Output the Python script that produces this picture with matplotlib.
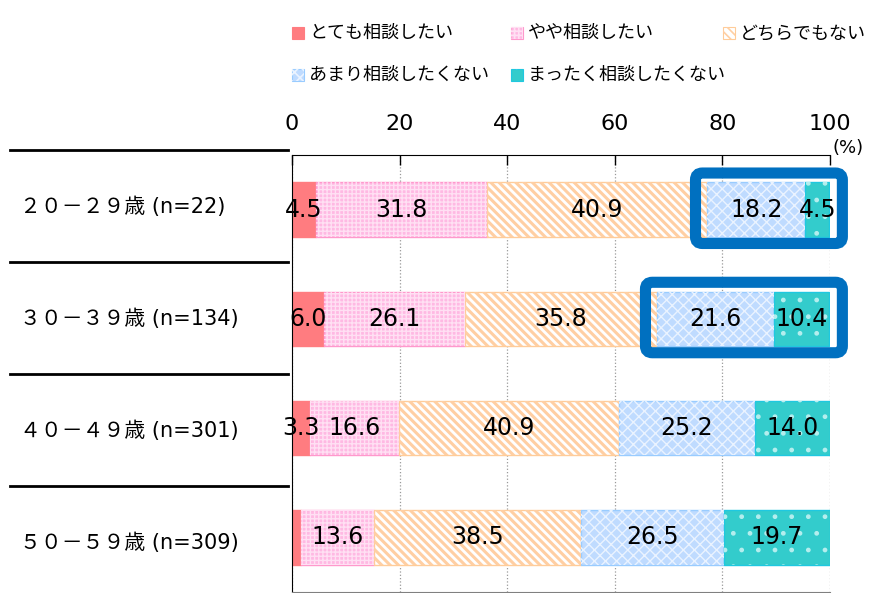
import matplotlib.pyplot as plt
from matplotlib.patches import Rectangle, FancyBboxPatch
from matplotlib.lines import Line2D
import numpy as np

plt.rcParams['font.family'] = ['DejaVu Sans', 'Noto Sans CJK JP']
plt.rcParams['hatch.linewidth'] = 1.2

# data
groups = ['２０－２９歳 (n=22)', '３０－３９歳 (n=134)',
          '４０－４９歳 (n=301)', '５０－５９歳 (n=309)']
series = ['とても相談したい', 'やや相談したい', 'どちらでもない',
          'あまり相談したくない', 'まったく相談したくない']
very_want = [4.5, 6.0, 3.3, 1.7]
some_want = [31.8, 26.1, 16.6, 13.6]
neutral = [40.9, 35.8, 40.9, 38.5]
not_much = [18.2, 21.6, 25.2, 26.5]
not_at_all = [4.5, 10.4, 14.0, 19.7]
xticks = [0, 20, 40, 60, 80, 100]
highlight_rows = [0, 1]

values = [very_want, some_want, neutral, not_much, not_at_all]

# style: (face, edge, hatch, hatch colour, hatch width)
styles = [
    ('#FF7C80', '#FF7C80', None, None, 1.0),
    ('#FFB9E3', '#FF99CC', '++++', '#FFE0F3', 1.0),
    ('#FFFFFF', '#FFCC99', '\\\\\\\\', '#FFCFA3', 2.2),
    ('#BFDBFF', '#99CCFF', 'xxx', '#EAF3FF', 1.0),
    ('#33CCCC', '#1FC8E0', '.', '#B4EEEE', 1.0),
]

W, H = 875, 593
fig = plt.figure(figsize=(W / 100, H / 100), dpi=100)
ax = fig.add_axes([292 / W, 1 / H, (830 - 292) / W, (592 - 155) / H])

y = np.arange(len(groups))
left = np.zeros(len(groups))
for vals, (fc, ec, hatch, hc, hw) in zip(values, styles):
    vals = np.array(vals)
    ax.barh(y, vals, left=left, height=0.5, color=fc,
            edgecolor=ec, linewidth=1, zorder=2)
    if hatch:
        with plt.rc_context({'hatch.linewidth': hw}):
            ax.barh(y, vals, left=left, height=0.5, color='none',
                    edgecolor=hc, linewidth=0, hatch=hatch, zorder=3)
    for yi, l, v in zip(y, left, vals):
        if v >= 3:
            ax.text(l + v / 2, yi, f'{v:.1f}', ha='center', va='center',
                    fontsize=17, color='black', zorder=6)
    left = left + vals

# highlight boxes around the last two segments
starts = np.array(very_want) + np.array(some_want) + np.array(neutral)
aspect = (1 / 109.25) / (100 / 538)
for r in highlight_rows:
    x0 = starts[r] - 2.2
    x1 = 102.3
    box = FancyBboxPatch((x0, r - 0.335), x1 - x0, 0.645,
                         boxstyle='round,pad=0,rounding_size=1.3',
                         mutation_aspect=aspect, linewidth=8,
                         edgecolor='#0070C0', facecolor='none',
                         clip_on=False, zorder=5)
    ax.add_patch(box)

ax.set_xlim(0, 100)
ax.set_ylim(len(groups) - 0.5, -0.5)
ax.set_xticks(xticks)
ax.xaxis.tick_top()
ax.tick_params(axis='x', direction='in', length=7, width=1, color='black',
               labelsize=16, pad=15)
ax.set_yticks([])
ax.grid(axis='x', linestyle=':', color='#999999', linewidth=0.9, zorder=0)
ax.set_axisbelow(True)
ax.spines['right'].set_visible(False)
ax.spines['bottom'].set_color('#808080')

fig.text(848 / W, 1 - 148 / H, '(%)', ha='center', va='center', fontsize=13)

# category labels and separators on the left
for i, g in enumerate(groups):
    sep = 150 + 112 * i
    fig.add_artist(Line2D([10 / W, 288 / W], [1 - sep / H, 1 - sep / H],
                          transform=fig.transFigure, color='black',
                          linewidth=2))
    fig.text(20 / W, 1 - (sep + 57) / H, g, ha='left', va='center',
             fontsize=15)

# legend, laid out like the original (3 + 2)
leg_pos = [(292, 33), (511, 33), (723, 33), (292, 75), (511, 75)]
for (px, py), name, (fc, ec, hatch, hc, hw) in zip(leg_pos, series, styles):
    sq = 12
    fig.add_artist(Rectangle((px / W, (H - py - sq / 2) / H), sq / W, sq / H,
                             transform=fig.transFigure, facecolor=fc,
                             edgecolor=ec, linewidth=0.8))
    if hatch:
        fig.add_artist(Rectangle((px / W, (H - py - sq / 2) / H), sq / W,
                                 sq / H, transform=fig.transFigure,
                                 facecolor='none', edgecolor=hc,
                                 linewidth=0, hatch=hatch))
    fig.text((px + 17) / W, 1 - py / H, name, ha='left', va='center',
             fontsize=13)

plt.savefig('out.png', dpi=100)
